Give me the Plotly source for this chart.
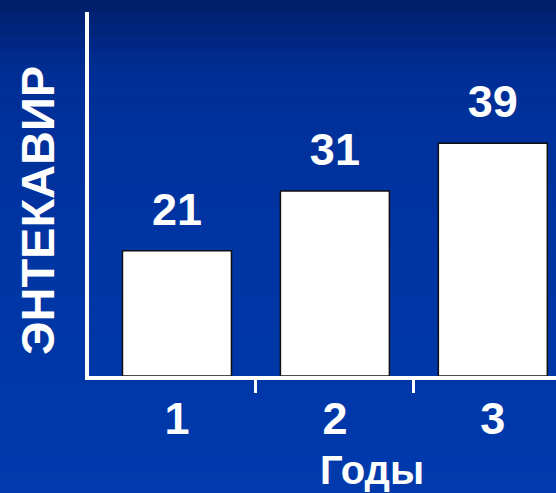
import plotly.graph_objects as go

years = ["1", "2", "3"]
values = [21, 31, 39]
x_title = "Годы"
y_title = "ЭНТЕКАВИР"
boundary_ticks = [0.5, 1.5]

FONT = "Arial, Liberation Sans, sans-serif"
W, H = 556, 493
L, R, T, B = 89, 0, 12, 117
xr = [-0.557, 2.40]
yr = [0, 61]

fig = go.Figure()
fig.add_trace(go.Bar(
    x=years, y=values, width=0.69,
    marker=dict(color="white", line=dict(color="#101010", width=1.5)),
    hoverinfo="skip", showlegend=False,
))
fig.add_trace(go.Scatter(
    x=years, y=values, mode="markers+text",
    text=[str(v) for v in values], textposition="top center",
    marker=dict(size=22, color="rgba(0,0,0,0)"),
    textfont=dict(family=FONT, size=45, color="white", weight="bold"),
    cliponaxis=False, hoverinfo="skip", showlegend=False,
))
fig.add_trace(go.Scatter(
    x=[0.5], y=[0], xaxis="x2", mode="markers",
    marker=dict(size=1, color="rgba(0,0,0,0)"),
    hoverinfo="skip", showlegend=False,
))

# background gradient bands (decoration)
stops = [(0.0, (0, 30, 105)), (0.15, (0, 46, 150)), (0.45, (0, 52, 162)), (1.0, (0, 58, 172))]
def col(t):
    for (t0, c0), (t1, c1) in zip(stops, stops[1:]):
        if t0 <= t <= t1:
            f = (t - t0) / (t1 - t0)
            return "rgb(%d,%d,%d)" % tuple(round(a + (b - a) * f) for a, b in zip(c0, c1))
    return "rgb(%d,%d,%d)" % stops[-1][1]
pw, ph = W - L - R, H - T - B
n = 40
shapes = []
for i in range(n):
    py0 = i * H / n
    py1 = (i + 1) * H / n + 1
    shapes.append(dict(
        type="rect", xref="paper", yref="paper", layer="below",
        x0=-L / pw, x1=1 + R / pw + 0.01,
        y0=1 + T / ph - py1 / ph, y1=1 + T / ph - py0 / ph,
        fillcolor=col((i + 0.5) / n), line=dict(width=0),
    ))

fig.update_layout(
    width=W, height=H,
    margin=dict(l=L, r=R, t=T, b=B),
    paper_bgcolor="rgb(0,50,160)", plot_bgcolor="rgba(0,0,0,0)",
    shapes=shapes,
    xaxis=dict(
        type="category", range=xr, showgrid=False, zeroline=False,
        showline=True, linecolor="white", linewidth=4,
        ticks="", ticklabelstandoff=0,
        tickfont=dict(family=FONT, size=45, color="white", weight="bold"),
    ),
    xaxis2=dict(
        overlaying="x", anchor="y", side="bottom", range=xr,
        tickvals=boundary_ticks, ticks="outside", ticklen=16, tickwidth=3,
        tickcolor="white", showticklabels=False, showgrid=False,
        zeroline=False, showline=False,
    ),
    yaxis=dict(
        range=yr, showgrid=False, zeroline=False, showticklabels=False,
        showline=True, linecolor="white", linewidth=4, ticks="",
    ),
    annotations=[
        dict(text=y_title, xref="paper", yref="paper", x=-(L - 37) / pw,
             y=(376 - 211) / ph, textangle=-90, showarrow=False,
             xanchor="center", yanchor="middle",
             font=dict(family=FONT, size=47, color="white", weight="bold")),
        dict(text=x_title, xref="paper", yref="paper", x=(372 - L) / pw,
             y=-(470 - 376) / ph, showarrow=False,
             xanchor="center", yanchor="middle",
             font=dict(family=FONT, size=40, color="white", weight="bold")),
    ],
)

fig.write_html("out.html")
